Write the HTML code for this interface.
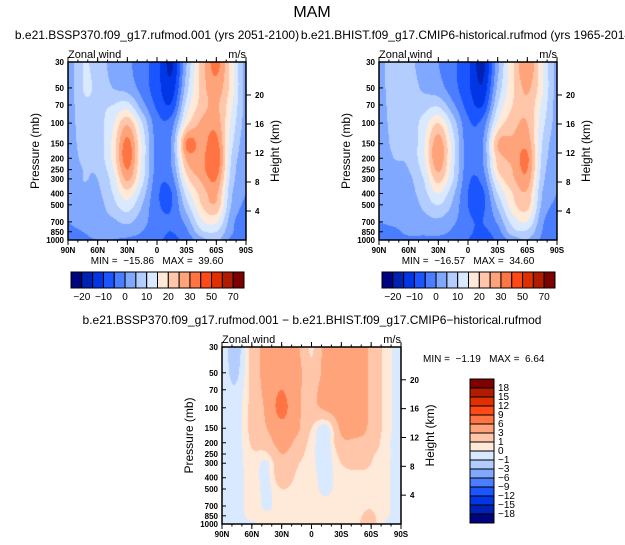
<!DOCTYPE html>
<html><head><meta charset="utf-8"><style>
html,body{margin:0;padding:0;background:#fff;}
#root{position:relative;width:625px;height:545px;overflow:hidden;font-family:"Liberation Sans",sans-serif;}
canvas{position:absolute;}
svg{position:absolute;left:0;top:0;}
text{white-space:pre;}
</style></head><body>
<div id="root">
<canvas id="c1" width="178" height="178" style="left:68px;top:62px"></canvas>
<canvas id="c2" width="178" height="178" style="left:379px;top:62px"></canvas>
<canvas id="c3" width="179" height="177" style="left:222px;top:347px"></canvas>
<svg id="svg" width="625" height="545"></svg>
</div>
<script>
const lats=["90N","75N","60N","45N","30N","15N","0","15S","30S","45S","60S","75S","90S"];
const pres=[30,50,70,100,150,200,250,300,400,500,700,850,1000];
const fieldA=[
[2,10,8,3,1,-3,-8,-16,5,22,32,18,3],
[2,10,9,5,3,-2,-8,-13,8,22,28,18,3],
[2,9,9,10,12,2,-6,-9,12,22,26,16,3],
[2,8,8,14,24,10,-3,-2,18,26,28,14,3],
[2,7,7,16,32,14,-2,1,31,28,32,12,2],
[2,6,7,16,33,14,-2,1,26,28,35,10,2],
[2,5,6,14,30,13,-2,0,22,28,33,9,1],
[1,5,5,12,26,12,-3,-2,18,26,30,8,1],
[1,4,4,10,18,8,-4,-5,12,22,26,6,0],
[1,3,3,8,13,5,-4,-5,8,20,24,5,-1],
[0,2,3,4,6,2,-3,-4,2,14,16,2,-3],
[-1,0,2,2,3,0,-3,-5,-1,9,10,1,-4],
[-2,-1,0,0,-1,-2,-4,-6,-3,3,6,-1,-5]];
const fieldB=[
[2,9,7,2,0,-4,-9,-17,3,19,30,16,3],
[2,9,8,4,2,-3,-9,-14,6,19,26,16,3],
[2,8,8,8,9,1,-7,-10,10,20,24,14,3],
[2,7,7,12,20,8,-4,-3,16,23,25,12,3],
[2,6,6,14,28,12,-3,0,25,26,28,10,2],
[2,5,6,14,29,12,-3,0,22,26,31,9,2],
[2,4,5,12,26,11,-3,-1,20,25,30,8,1],
[1,4,4,10,22,10,-4,-3,16,24,28,7,1],
[1,3,3,8,15,6,-5,-6,10,20,24,5,0],
[1,2,2,6,10,4,-5,-6,6,18,22,4,-1],
[0,1,2,3,4,1,-4,-5,1,12,15,1,-3],
[-1,-1,1,1,2,-1,-4,-6,-2,8,9,0,-4],
[-2,-2,-1,-1,-2,-3,-5,-7,-4,2,5,-1,-5]];
const fieldD=[
[-0.5,-1.5,1.5,4,4.5,3.5,0.8,4,4.5,4.5,2.5,0.5,-0.5],
[-0.5,-1.2,1.5,4,5,4,1.5,4,4.5,4.5,2.5,0.5,-0.5],
[-0.5,-0.8,1.5,3.8,6,3.5,2.5,4,4.5,4.5,2.5,0.5,-0.5],
[-0.5,-0.5,1.5,3.5,7,3.5,2.5,3.5,4.5,4.5,2.5,0.5,-0.5],
[-0.5,-0.5,1.5,3,5,3.5,1,-0.5,3.5,4,2.5,0.5,-0.5],
[-0.5,-0.5,1.2,2,4,2.5,0.5,-0.6,2.5,2.5,2,0.3,-0.5],
[-0.5,-0.5,0.8,0.8,3,1.8,0.3,-0.6,1.5,1.5,1.2,0.3,-0.5],
[-0.5,-0.5,0.6,-0.2,2.5,1.2,0.3,-0.5,1,1.2,1,0.3,-0.8],
[-0.5,-0.5,0.5,-0.3,2,0.8,0.3,-0.3,0.6,0.8,0.8,0.2,-0.5],
[-0.5,-0.5,0.5,-0.3,1,0.5,0.3,-0.2,0.5,0.8,0.8,0.2,-0.5],
[-0.5,-0.5,0.5,-0.2,0.5,0.4,0.3,0.3,0.5,0.7,0.9,0.2,-0.5],
[-0.5,-0.5,0.4,0.2,0.4,0.4,0.3,0.3,0.6,0.8,1.2,0.2,-0.5],
[-0.5,-0.5,-0.2,0.3,0.4,0.3,0.3,0.3,0.5,0.8,1.5,-0.2,-0.5]];
const levelsTop=[-20,-15,-10,-5,0,5,10,15,20,25,30,40,50,60,70];
const levelsDiff=[-18,-15,-12,-9,-6,-3,-1,0,1,3,6,9,12,15,18];
const labelsTop=["-20","-10","0","10","20","30","50","70"];
const labelsDiff=["18","15","12","9","6","3","1","0","-1","-3","-6","-9","-12","-15","-18"];
const statsA=["-15.86","39.60"],statsB=["-16.57","34.60"],statsD=["-1.19","6.64"];
const cols16=["#00037f","#0022b4","#0036e6","#1a55ff","#4a7dff","#80a8ff","#b4cdff","#d9e9ff","#ffe9d8","#ffc6aa","#ffa47a","#ff7442","#ff4a18","#e03000","#b01c00","#7f0000"];

function hex(h){return [parseInt(h.substr(1,2),16),parseInt(h.substr(3,2),16),parseInt(h.substr(5,2),16)];}
const lp0=Math.log(30),lp1=Math.log(1000);
const lpArr=pres.map(p=>Math.log(p));
function cr(p0,p1,p2,p3,t){return 0.5*((2*p1)+(-p0+p2)*t+(2*p0-5*p1+4*p2-p3)*t*t+(-p0+3*p1-3*p2+p3)*t*t*t);}
function sample(field,r,ty,fx){
  const nC=lats.length,nR=pres.length;
  let c=Math.min(nC-2,Math.floor(fx));const tx=fx-c;
  const row=k=>{k=Math.max(0,Math.min(nR-1,k));const f=field[k];const g=j=>f[Math.max(0,Math.min(nC-1,j))];
    return cr(g(c-1),g(c),g(c+1),g(c+2),tx);};
  return cr(row(r-1),row(r),row(r+1),row(r+2),ty);
}
function drawField(id,field,levels,cols){
  const cv=document.getElementById(id),ctx=cv.getContext('2d');
  const W=cv.width,H=cv.height,img=ctx.createImageData(W,H);
  const rgb=cols.map(hex);
  for(let y=0;y<H;y++){
    const lp=lp0+(y+0.5)/H*(lp1-lp0);
    let r=0;while(r<pres.length-2&&lpArr[r+1]<lp)r++;
    const ty=Math.min(1,Math.max(0,(lp-lpArr[r])/(lpArr[r+1]-lpArr[r])));
    for(let x=0;x<W;x++){
      const fx=(x+0.5)/W*(lats.length-1);
      const v=sample(field,r,ty,fx);
      let k=0;while(k<levels.length&&v>=levels[k])k++;
      const col=rgb[Math.min(k,rgb.length-1)],i=(y*W+x)*4;
      img.data[i]=col[0];img.data[i+1]=col[1];img.data[i+2]=col[2];img.data[i+3]=255;
    }
  }
  ctx.putImageData(img,0,0);
}
drawField('c1',fieldA,levelsTop,cols16);
drawField('c2',fieldB,levelsTop,cols16);
drawField('c3',fieldD,levelsDiff,cols16);

const svg=document.getElementById('svg');const NS="http://www.w3.org/2000/svg";
function el(tag,attrs,txt){const e=document.createElementNS(NS,tag);for(const k in attrs)e.setAttribute(k,attrs[k]);if(txt!==undefined)e.textContent=txt;svg.appendChild(e);return e;}
function txt(x,y,s,size,anchor,name,extra){const e=el('text',Object.assign({x:x,y:y,'font-size':size,'text-anchor':anchor||'start','font-family':'Liberation Sans, sans-serif',fill:'#000'},extra||{}),s);

return e;}

txt(312,17,"MAM",16,'middle','main-title');
function panel(x0,y0,w,h,prefix,stats,statsPos){
  const r=el('rect',{x:x0,y:y0,width:w,height:h,fill:'none',stroke:'#000','stroke-width':1.5});
  
  
  const ypix=p=>y0+(Math.log(p)-lp0)/(lp1-lp0)*h;
  pres.forEach(p=>{const y=ypix(p);
    el('line',{x1:x0,x2:x0+4,y1:y,y2:y,stroke:'#000'});
    txt(x0-4,y+3,String(p),8,'end',prefix+'-pressure-tick-label',{'font-weight':'bold'});});
  for(let i=0;i<=6;i++){const x=x0+i*w/6;
    el('line',{x1:x,x2:x,y1:y0+h,y2:y0+h+5,stroke:'#000'});
    el('line',{x1:x,x2:x,y1:y0,y2:y0-5,stroke:'#000'});
    txt(x,y0+h+13,lats[i*2],8,'middle',prefix+'-lat-tick-label',{'font-weight':'bold'});}
  for(let i=0;i<=18;i++){const x=x0+i*w/18;
    el('line',{x1:x,x2:x,y1:y0+h,y2:y0+h+2.5,stroke:'#000'});
    el('line',{x1:x,x2:x,y1:y0,y2:y0-2.5,stroke:'#000'});}
  [4,8,12,16,20].forEach(z=>{const p=1000*Math.exp(-z/7),y=ypix(p);
    el('line',{x1:x0+w,x2:x0+w+5,y1:y,y2:y,stroke:'#000'});
    txt(x0+w+9,y+3,String(z),8,'start',prefix+'-height-tick-label',{'font-weight':'bold'});});
  txt(x0,y0-4,"Zonal wind",11,'start',prefix+'-variable-label');
  txt(x0+w,y0-4,"m/s",11,'end',prefix+'-units-label');
  txt(x0-29,y0+h/2,"Pressure (mb)",12,'middle',prefix+'-y-axis-title',{transform:`rotate(-90 ${x0-29} ${y0+h/2})`});
  txt(x0+w+33,y0+h/2,"Height (km)",12,'middle',prefix+'-y2-axis-title',{transform:`rotate(-90 ${x0+w+33} ${y0+h/2})`});
  txt(statsPos[0],statsPos[1],`MIN =  ${stats[0].replace('-','\u2212')}   MAX =  ${stats[1]}`,10,statsPos[2],prefix+'-min-max-label');
}
panel(68,62,178,178,'ssp370',statsA,[157,264,'middle']);
panel(379,62,178,178,'hist',statsB,[468,264,'middle']);
panel(222,347,179,177,'diff',statsD,[423,362,'start']);
txt(157,39,"b.e21.BSSP370.f09_g17.rufmod.001 (yrs 2051-2100)",12,'middle','ssp370-subtitle');
txt(468,39,"b.e21.BHIST.f09_g17.CMIP6-historical.rufmod (yrs 1965-2014)",12,'middle','hist-subtitle');
txt(312,324,"b.e21.BSSP370.f09_g17.rufmod.001 \u2212 b.e21.BHIST.f09_g17.CMIP6\u2212historical.rufmod",12,'middle','diff-subtitle');

function hbar(x0,y0,prefix){
  const bw=173/16;
  for(let i=0;i<16;i++){const r=el('rect',{x:x0+i*bw,y:y0,width:bw,height:16,fill:cols16[i],stroke:'#000','stroke-width':1});
    
    }
  labelsTop.forEach((s,i)=>txt(x0+(2*i+1)*bw,y0+28,s.replace('-','\u2212'),10,'middle',prefix+'-colorbar-label'));
}
hbar(71,272,'ssp370');hbar(382,272,'hist');
const vb=144/16;
for(let i=0;i<16;i++){const r=el('rect',{x:470,y:379+i*vb,width:24,height:vb,fill:cols16[15-i],stroke:'#000','stroke-width':1});
  
  }
labelsDiff.forEach((s,i)=>txt(498,379+(i+1)*vb+3,s.replace('-','\u2212'),10,'start','diff-colorbar-label'));
</script>
</body></html>
